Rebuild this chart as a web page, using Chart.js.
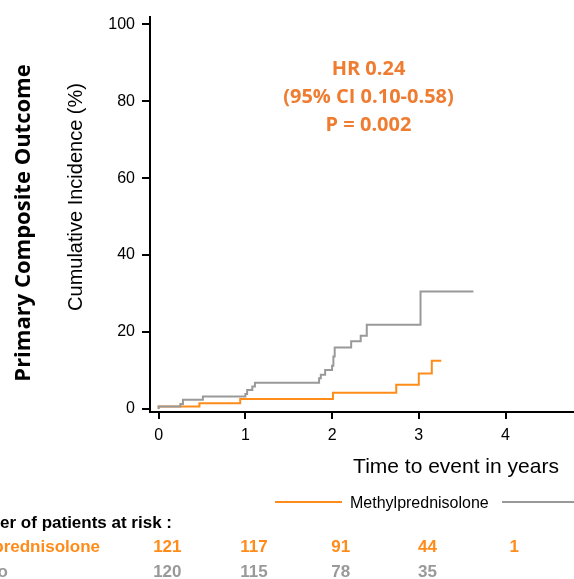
<!DOCTYPE html>
<html>
<head>
<meta charset="utf-8">
<script src="https://cdn.jsdelivr.net/npm/chart.js@4.4.1/dist/chart.umd.min.js"></script>
<style>
  html, body { margin: 0; padding: 0; background: #fff; }
  #wrap { width: 574px; height: 579px; overflow: hidden; }
</style>
</head>
<body>
<div id="wrap"><canvas id="km" width="574" height="579"></canvas></div>
<script>
// --- data ---
const methylTimes  = [0, 0,   0.47, 0.94, 2.01, 2.74, 3.00, 3.15, 3.26];
const methylValues = [0, 0.6, 1.5,  2.6,  4.2,  6.3,  9.2,  12.5, 12.5];

const placeboTimes  = [0, 0,   0.25, 0.28, 0.51, 1.00, 1.02, 1.08, 1.11, 1.85, 1.87, 1.92, 2.00, 2.015, 2.03, 2.22, 2.33, 2.40, 3.02, 3.63];
const placeboValues = [0, 0.6, 1.3,  2.4,  3.2,  3.9,  4.9,  5.8,  6.8,  8.0,  8.9,  10.1, 11.2, 13.6,  16.0, 17.6, 19.0, 21.9, 30.5, 30.5];

const xTickValues = [0, 1, 2, 3, 4];
const yTickValues = [0, 20, 40, 60, 80, 100];

const riskTimes   = [0, 1, 2, 3, 4];
const riskMethyl  = [121, 117, 91, 44, 1];
const riskPlacebo = [120, 115, 78, 35];

const ORANGE = '#ff8c1a';
const GRAY = '#999999';
const HR_ORANGE = '#ee7d31';

const toPoints = (xs, ys) => xs.map((x, i) => ({ x, y: ys[i] }));

/**
 * Extra texts: annotation, titles, legend, risk table
 */
const extrasPlugin = {
  id: 'kmExtras',
  afterDraw: (chart) => {
    const c = chart.ctx;
    const xs = chart.scales.x;
    const ys = chart.scales.y;
    c.save();

    // HR annotation
    c.fillStyle = HR_ORANGE;
    c.textAlign = 'center';
    c.textBaseline = 'middle';
    c.font = 'bold 20px "Open Sans"';
    const ax = xs.getPixelForValue(2.42);
    const ay = ys.getPixelForValue(81);
    c.fillText('HR 0.24', ax, ay - 28);
    c.fillText('(95% CI 0.10-0.58)', ax, ay);
    c.fillText('P = 0.002', ax, ay + 28);

    // outer title
    c.fillStyle = '#000';
    c.save();
    c.translate(24, 223);
    c.rotate(-Math.PI / 2);
    c.font = 'bold 22px "Open Sans"';
    c.fillText('Primary Composite Outcome', 0, 0);
    c.restore();

    // y axis title
    c.save();
    c.translate(76, 197);
    c.rotate(-Math.PI / 2);
    c.font = '20px "Liberation Sans"';
    c.fillText('Cumulative Incidence (%)', 0, 0);
    c.restore();

    // x axis title
    c.font = '21px "Liberation Sans"';
    c.fillText('Time to event in years', 456, 467);

    // legend
    c.lineWidth = 2;
    c.strokeStyle = ORANGE;
    c.beginPath(); c.moveTo(275, 502); c.lineTo(342, 502); c.stroke();
    c.strokeStyle = GRAY;
    c.beginPath(); c.moveTo(502, 502); c.lineTo(580, 502); c.stroke();
    c.font = '16px "Liberation Sans"';
    c.textAlign = 'left';
    c.fillStyle = '#000';
    c.fillText('Methylprednisolone', 350, 504);

    // risk table
    c.font = 'bold 17px "Liberation Sans"';
    c.textAlign = 'right';
    c.fillText('Number of patients at risk :', 172, 523);
    c.fillStyle = ORANGE;
    c.fillText('Methylprednisolone', 100, 547);
    c.fillStyle = GRAY;
    c.fillText('Placebo', 8, 572);

    c.textAlign = 'center';
    riskMethyl.forEach((n, i) => {
      c.fillStyle = ORANGE;
      c.fillText(String(n), xs.getPixelForValue(riskTimes[i] + 0.1), 547);
    });
    riskPlacebo.forEach((n, i) => {
      c.fillStyle = GRAY;
      c.fillText(String(n), xs.getPixelForValue(riskTimes[i] + 0.1), 572);
    });

    c.restore();
  }
};

const ctx = document.getElementById('km').getContext('2d');

new Chart(ctx, {
  type: 'line',
  data: {
    datasets: [
      {
        label: 'Placebo',
        data: toPoints(placeboTimes, placeboValues),
        borderColor: GRAY,
        borderWidth: 2,
        stepped: true,
        pointRadius: 0,
        fill: false,
        order: 1,
      },
      {
        label: 'Methylprednisolone',
        data: toPoints(methylTimes, methylValues),
        borderColor: ORANGE,
        borderWidth: 2,
        stepped: true,
        pointRadius: 0,
        fill: false,
        order: 2,
      },
    ]
  },
  options: {
    responsive: false,
    animation: false,
    devicePixelRatio: 1,
    layout: { padding: { top: 16, left: 0, right: 0, bottom: 0 } },
    plugins: {
      legend: { display: false },
      tooltip: { enabled: false },
    },
    scales: {
      x: {
        type: 'linear',
        min: -0.1,
        max: 4.79,
        afterBuildTicks: (s) => { s.ticks = xTickValues.map(v => ({ value: v })); },
        afterFit: (s) => { s.height = 167; },
        grid: { drawOnChartArea: false, tickLength: 7, color: '#000', lineWidth: 2 },
        border: { color: '#000', width: 2 },
        ticks: { color: '#000', font: { family: 'Liberation Sans', size: 16 }, padding: 7, maxRotation: 0 },
      },
      y: {
        type: 'linear',
        min: -0.8,
        max: 102,
        afterBuildTicks: (s) => { s.ticks = yTickValues.map(v => ({ value: v })); },
        afterFit: (s) => { s.width = 150; },
        grid: { drawOnChartArea: false, tickLength: 8, color: '#000', lineWidth: 2 },
        border: { color: '#000', width: 2 },
        ticks: { color: '#000', font: { family: 'Liberation Sans', size: 16 }, padding: 7 },
      },
    },
  },
  plugins: [extrasPlugin],
});
</script>
</body>
</html>
